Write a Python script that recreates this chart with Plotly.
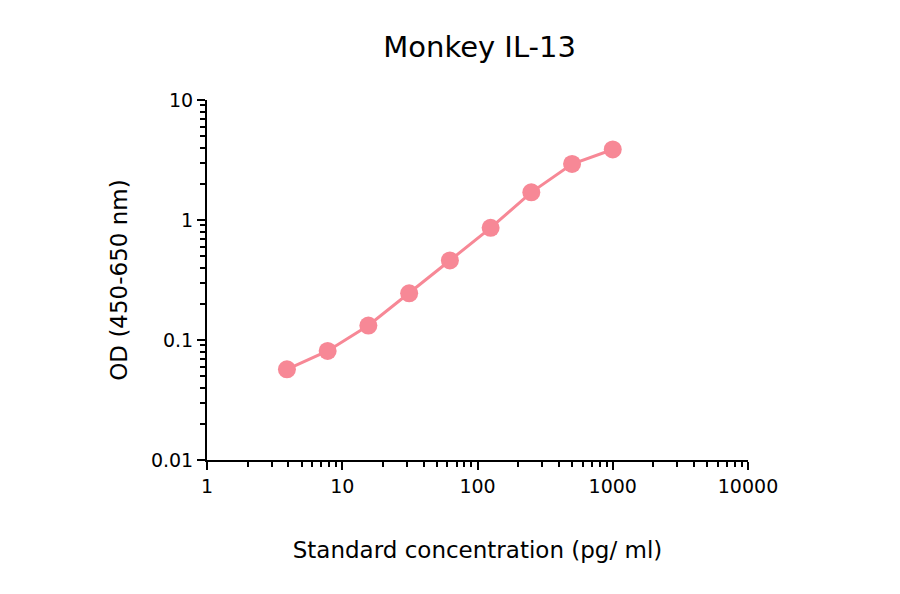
import plotly.graph_objects as go

# standard curve, Monkey IL-13
conc = [3.9, 7.8, 15.6, 31.25, 62.5, 125, 250, 500, 1000]
od = [0.057, 0.081, 0.132, 0.245, 0.46, 0.86, 1.70, 2.93, 3.87]

x_ticks = [1, 10, 100, 1000, 10000]
x_labels = ['1', '10', '100', '1000', '10000']
y_ticks = [0.01, 0.1, 1, 10]
y_labels = ['0.01', '0.1', '1', '10']

pink = '#F78896'
font = 'DejaVu Sans'

x_minor = [m * 10 ** d for d in range(0, 4) for m in range(2, 10)]
y_minor = [m * 10 ** d for d in range(-2, 1) for m in range(2, 10)]

fig = go.Figure()
fig.add_trace(go.Scatter(
    x=conc, y=od, mode='lines+markers',
    line=dict(color=pink, width=3),
    marker=dict(color=pink, size=18),
    showlegend=False,
))

axis_common = dict(
    showgrid=False, zeroline=False, showline=True, linecolor='black', linewidth=2,
    ticks='outside', ticklen=8, tickwidth=2, tickcolor='black',
    tickfont=dict(family=font, size=19, color='black'),
)

fig.update_xaxes(
    type='log', range=[0, 4], tickvals=x_ticks, ticktext=x_labels,
    minor=dict(tickvals=x_minor, ticks='outside', ticklen=5, tickwidth=2, tickcolor='black'),
    title=dict(text='Standard concentration (pg/ ml)', font=dict(family=font, size=23, color='black'), standoff=46),
    **axis_common,
)
fig.update_yaxes(
    type='log', range=[-2, 1], tickvals=y_ticks, ticktext=y_labels,
    minor=dict(tickvals=y_minor, ticks='outside', ticklen=5, tickwidth=2, tickcolor='black'),
    title=dict(text='OD (450-650 nm)', font=dict(family=font, size=23, color='black'), standoff=17),
    **axis_common,
)

fig.update_layout(
    width=900, height=594,
    margin=dict(l=199, r=160, t=92, b=142),
    paper_bgcolor='white', plot_bgcolor='white',
    title=dict(text='Monkey IL-13', x=0.524, xanchor='center', y=0.934, yanchor='middle',
               font=dict(family=font, size=29, color='black')),
)

fig.write_html('out.html')
